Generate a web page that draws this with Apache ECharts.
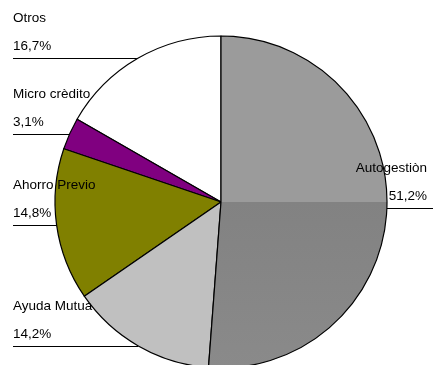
<!DOCTYPE html>
<html>
<head>
<meta charset="utf-8">
<script src="https://cdn.jsdelivr.net/npm/echarts@6/dist/echarts.min.js"></script>
<style>
html,body{margin:0;padding:0;background:#fff;}
#c{width:433px;height:365px;}
</style>
</head>
<body>
<div id="c"></div>
<script>
var categories = ['Otros', 'Micro crèdito', 'Ahorro Previo', 'Ayuda Mutua', 'Autogestiòn'];
var values = [16.7, 3.1, 14.8, 14.2, 51.2];
var sliceColors = ['#ffffff', '#800080', '#808000', '#c0c0c0', null];

var chart = echarts.init(document.getElementById('c'), null, {renderer: 'canvas'});
var W = 433;

function fmt(v) { return v.toFixed(1).replace('.', ',') + '%'; }

var autoColor = new echarts.graphic.LinearGradient(0, 0, 0, 1, [
  {offset: 0, color: '#9b9b9b'},
  {offset: 0.5, color: '#9b9b9b'},
  {offset: 0.501, color: '#828282'},
  {offset: 1, color: '#8a8a8a'}
]);

var data = categories.map(function (name, i) {
  return {
    name: name,
    value: values[i],
    itemStyle: {color: sliceColors[i] || autoColor}
  };
});

var CX = 221;

chart.setOption({
  backgroundColor: '#ffffff',
  animation: false,
  textStyle: {fontFamily: 'Liberation Sans, Arial, sans-serif'},
  series: [{
    type: 'pie',
    center: [CX, 202],
    radius: [0, 166],
    startAngle: 90,
    clockwise: false,
    avoidLabelOverlap: false,
    silent: true,
    itemStyle: {borderColor: '#000000', borderWidth: 1.2},
    label: {
      show: true,
      position: 'outside',
      formatter: function (p) { return '{n|' + p.name + '}\n{v|' + fmt(p.value) + '}'; },
      rich: {
        n: {fontSize: 13.5, lineHeight: 28, color: '#000', fontFamily: 'Liberation Sans, Arial, sans-serif'},
        v: {fontSize: 13.5, lineHeight: 28, color: '#000', fontFamily: 'Liberation Sans, Arial, sans-serif'}
      }
    },
    labelLine: {show: true, length: 1, length2: 1, smooth: false, lineStyle: {color: '#000', width: 1}},
    labelLayout: function (params) {
      var pts = params.labelLinePoints;
      if (!pts) return {};
      var p0 = pts[0];
      var isLeft = p0[0] < CX;
      var y = Math.round(p0[1]) + 0.5;
      var edgeX = isLeft ? 13 : W;
      return {
        x: isLeft ? 13 : 427,
        y: y - 26.5,
        align: isLeft ? 'left' : 'right',
        verticalAlign: 'middle',
        labelLinePoints: [[p0[0], y], [p0[0], y], [edgeX, y]]
      };
    },
    data: data
  }]
});
</script>
</body>
</html>
